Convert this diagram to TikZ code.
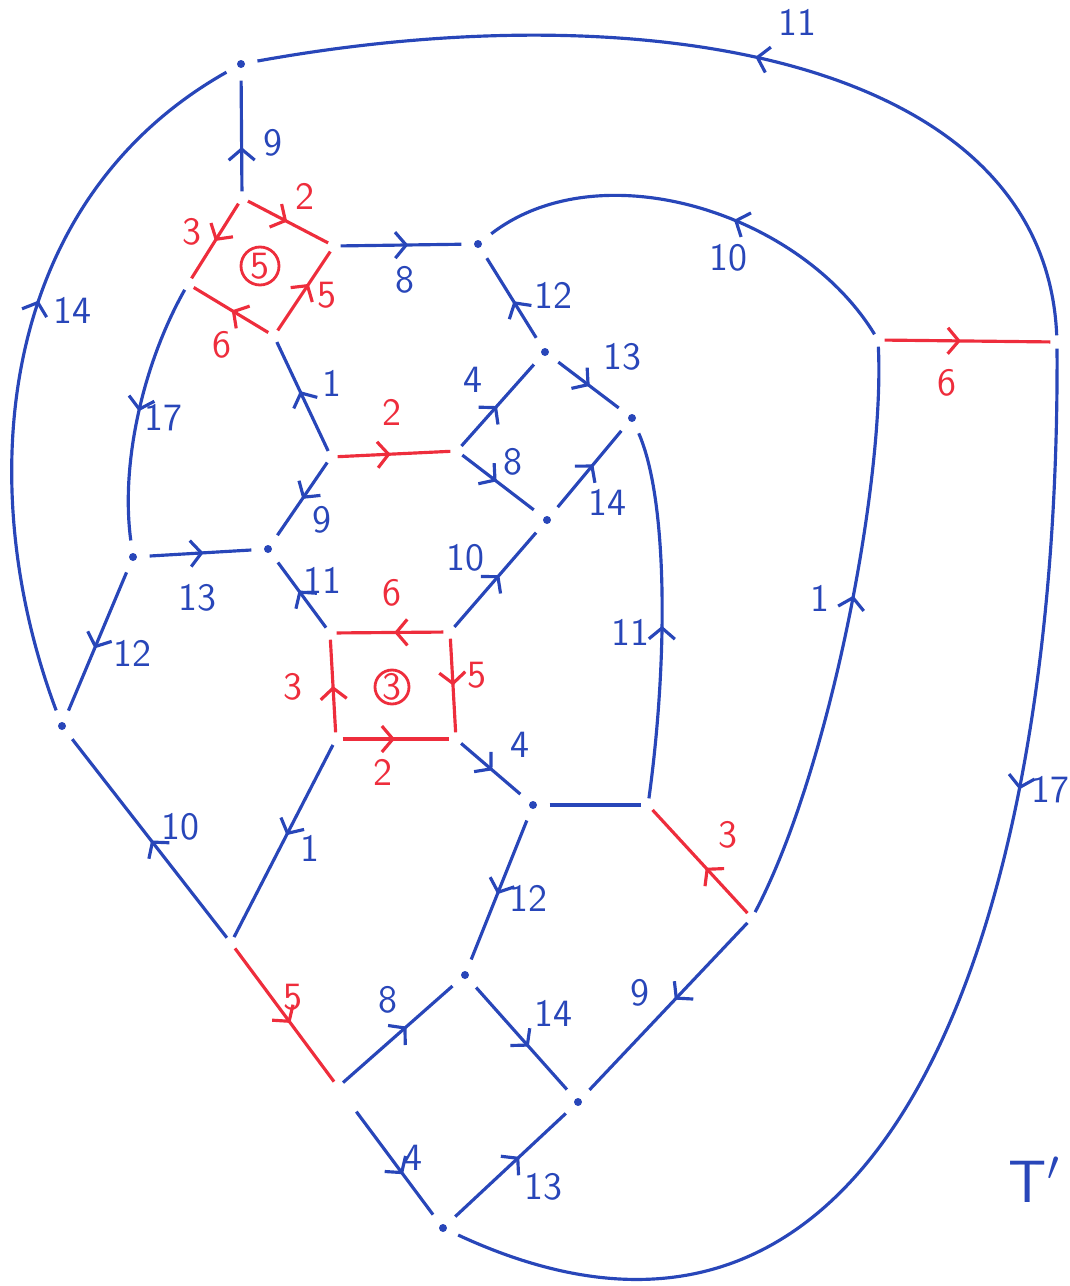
\documentclass[tikz,border=0pt]{standalone}
\usetikzlibrary{arrows.meta,decorations.markings}
\definecolor{inkblue}{RGB}{40,70,185}
\definecolor{inkred}{RGB}{238,45,60}
\tikzset{
  barb/.tip={Straight Barb[length=1.1mm,width=2.6mm]},
  arrowat/.style={postaction={decorate,decoration={markings,%
      mark=at position #1 with {\arrow{barb}}}}},
  arrowat/.default=.5,
  bl/.style={draw=inkblue,line width=0.9pt},
  rd/.style={draw=inkred,line width=0.9pt},
  dotv/.style={circle,inner sep=0pt,minimum size=3.2mm,%
    path picture={\fill[inkblue] (path picture bounding box.center) circle (0.4mm);}},
  jointv/.style={circle,inner sep=0pt,minimum size=1.2mm},
  lbl/.style={text=inkblue,font=\sffamily\fontsize{11}{11}\selectfont,inner sep=0pt},
  rlbl/.style={lbl,text=inkred},
  face/.style={rlbl,circle,draw=inkred,line width=0.8pt,minimum size=3.8mm},
}
\begin{document}
\begin{tikzpicture}[x=0.1mm,y=-0.1mm]
  \useasboundingbox (0,0) rectangle (1070,1286);
  % vertices
  \node[dotv] (vTop) at (241,64) {};
  \node[jointv] (dT) at (242,198) {};
  \node[jointv] (dR) at (334,246) {};
  \node[jointv] (dB) at (274,336) {};
  \node[jointv] (dL) at (188,284) {};
  \node[dotv] (a) at (478,244) {};
  \node[dotv] (b) at (545,352) {};
  \node[dotv] (c) at (632,418) {};
  \node[jointv] (mL) at (331,457) {};
  \node[jointv] (mR) at (457,451) {};
  \node[dotv] (e) at (547,520) {};
  \node[dotv] (f) at (268,549) {};
  \node[dotv] (g) at (133,557) {};
  \node[dotv] (h) at (62,726) {};
  \node[jointv] (sTL) at (330,633) {};
  \node[jointv] (sTR) at (450,632) {};
  \node[jointv] (sBR) at (456,739) {};
  \node[jointv] (sBL) at (336,739) {};
  \node[dotv] (k) at (533,805) {};
  \node[jointv] (n) at (648,805) {};
  \node[jointv] (p) at (752,918) {};
  \node[jointv] (q) at (231,943) {};
  \node[jointv] (r) at (338,1087) {};
  \node[dotv] (t) at (465,975) {};
  \node[dotv] (u) at (578,1102) {};
  \node[dotv] (w) at (443,1228) {};
  \node[jointv] (inner) at (878,340) {};
  \node[jointv] (outer) at (1057,342) {};

  % outer strands
  \draw[bl,arrowat=.4] (dT) -- (vTop);
  \draw[bl,arrowat=.47] (outer) .. controls (1045,60) and (650,-10) .. (vTop);
  \draw[bl,arrowat=.58] (h) .. controls (-30,480) and (0,200) .. (vTop);
  \draw[bl,arrowat=.34] (outer) .. controls (1060,900) and (900,1440) .. (w);
  \draw[rd,arrowat=.46] (inner) -- (outer);
  \draw[bl,arrowat=.42] (inner) .. controls (800,212) and (600,150) .. (a);
  \draw[bl,arrowat=.57] (p) .. controls (830,770) and (885,480) .. (inner);

  % upper face
  \draw[rd,arrowat=.49] (dT) -- (dR);
  \draw[rd,arrowat=.5] (dT) -- (dL);
  \draw[rd,arrowat=.49] (dB) -- (dL);
  \draw[rd,arrowat=.59] (dB) -- (dR);
  \draw[bl,arrowat=.56] (dR) -- (a);
  \draw[bl,arrowat=.46] (b) -- (a);
  \draw[bl,arrowat=.52] (b) -- (c);
  \draw[bl,arrowat=.49] (mR) -- (b);
  \draw[rd,arrowat=.47] (mL) -- (mR);
  \draw[bl,arrowat=.55] (mL) -- (dB);
  \draw[bl,arrowat=.48] (mR) -- (e);
  \draw[bl,arrowat=.56] (e) -- (c);
  \draw[bl,arrowat=.5] (mL) -- (f);
  \draw[bl,arrowat=.5] (dL) .. controls (145,360) and (120,460) .. (g);
  \draw[bl,arrowat=.53] (g) -- (f);
  \draw[bl,arrowat=.55] (g) -- (h);

  % lower face
  \draw[bl,arrowat=.57] (sTL) -- (f);
  \draw[bl,arrowat=.55] (sTR) -- (e);
  \draw[rd,arrowat=.46] (sTR) -- (sTL);
  \draw[rd,arrowat=.5] (sTR) -- (sBR);
  \draw[rd,arrowat=.49] (sBL) -- (sBR);
  \draw[rd,arrowat=.5] (sBL) -- (sTL);
  \draw[bl,arrowat=.53] (sBR) -- (k);
  \draw[bl] (k) -- (n);
  \draw[bl,arrowat=.47] (n) .. controls (668,660) and (668,500) .. (c);
  \draw[rd,arrowat=.44] (p) -- (n);
  \draw[bl,arrowat=.46] (p) -- (u);
  \draw[bl,arrowat=.47] (sBL) -- (q);
  \draw[bl,arrowat=.49] (q) -- (h);
  \draw[rd,arrowat=.56] (q) -- (r);
  \draw[bl,arrowat=.58] (r) -- (t);
  \draw[bl,arrowat=.53] (k) -- (t);
  \draw[bl,arrowat=.58] (t) -- (u);
  \draw[bl,arrowat=.67,shorten <=2.4mm] (r) -- (w);
  \draw[bl,arrowat=.58] (w) -- (u);

  % labels
  \foreach \x/\y/\t [count=\i] in {273/143/9, 797/22/11, 72/310/14, 405/280/8,
      728/258/10, 553/295/12, 622/357/13, 473/380/4, 332/383/1, 513/462/8,
      607/502/14, 322/520/9, 322/580/11, 465/558/10, 520/745/4, 630/632/11,
      820/598/1, 640/993/9, 310/848/1, 180/827/10, 388/1000/8, 528/898/12,
      553/1013/14, 413/1158/4, 543/1187/13, 1050/790/17, 163/418/17,
      197/598/13, 132/653/12}
    \node[lbl] (lb\i) at (\x,\y) {\t};
  \foreach \x/\y/\t [count=\i] in {305/196/2, 192/232/3, 222/345/6, 327/295/5,
      392/412/2, 392/593/6, 293/687/3, 477/675/5, 383/772/2, 947/383/6,
      728/835/3, 293/997/5}
    \node[rlbl] (rb\i) at (\x,\y) {\t};
  \node[face] (face5) at (260,266) {5};
  \node[face,minimum size=3.4mm] (face3) at (392,687) {3};
  \node[text=inkblue,font=\sffamily\fontsize{17}{17}\selectfont,anchor=west,inner sep=0pt]
    (tname) at (1008,1180) {T$'$};
\end{tikzpicture}
\end{document}
